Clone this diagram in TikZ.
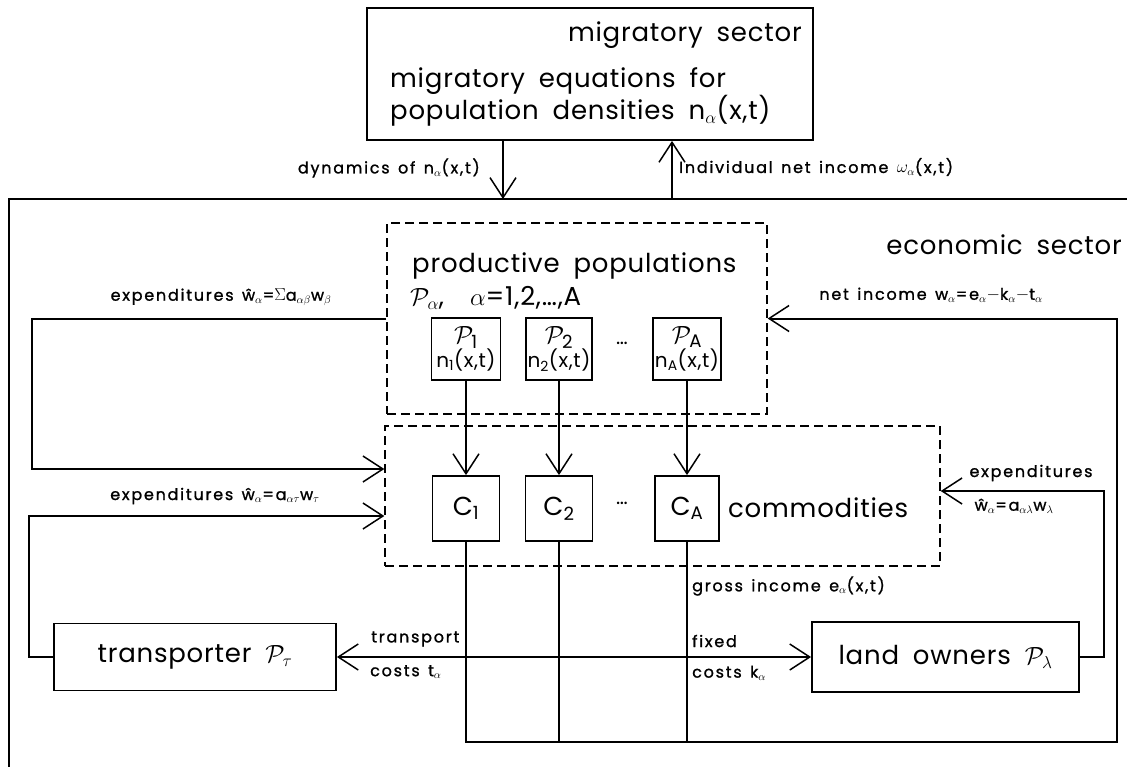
\documentclass[tikz,border=0pt]{standalone}
\usepackage{amsmath}
\usepackage{fontspec}
\setmainfont{Poppins}[LetterSpace=3, WordSpace=1.8]
\newfontfamily\lblfont{Poppins}[LetterSpace=11, WordSpace=1.4, FakeBold=1.2]
\usetikzlibrary{arrows.meta, positioning}

\begin{document}
\begin{tikzpicture}[x=1pt, y=-1pt,
  vtip/.tip={Straight Barb[length=20pt, width=26pt, line width=1.5pt]},
  box/.style={draw, line width=1.8pt, inner sep=0pt},
  dbox/.style={draw, line width=1.4pt, dash pattern=on 9pt off 5pt, inner sep=0pt},
  flow/.style={line width=2pt},
  arr/.style={flow, -vtip},
  big/.style={font=\fontsize{26}{27}\selectfont, inner sep=0pt},
  mid/.style={font=\fontsize{20}{22}\selectfont, inner sep=0pt},
  lbl/.style={font=\lblfont\fontsize{16}{18}\selectfont, inner sep=0pt}]
\clip (0,0) rectangle (1127,766);

\node[box, minimum width=446pt, minimum height=132pt] (mig) at (590,74) {};
\node[big, anchor=east] (migT) at (802,35) {migratory sector};
\node[big, anchor=west, align=left] (migE) at (390,97) {migratory equations for\\population densities n$_\alpha$(x,t)};

\draw[flow] (9,780) -- (9,199) -- (1140,199);
\coordinate (dynIn) at (503,199);
\coordinate (incOut) at (672,199);
\draw[arr] (mig.south -| dynIn) -- (dynIn);
\draw[arr] (incOut) -- (incOut |- mig.south);
\node[lbl, anchor=east] (dyn) at (480,168) {dynamics of n$_\alpha$(x,t)};
\node[lbl, anchor=west] (ind) at (679,167) {Individual net income $\omega_\alpha$(x,t)};
\node[big, anchor=east] (eco) at (1122,245) {economic sector};

\node[dbox, minimum width=380pt, minimum height=191pt] (prod) at (577,318.5) {};
\node[big, anchor=west] (prodT) at (412,266) {productive populations};
\node[big, anchor=west] (prodS) at (410,298) {$\mathcal{P}_\alpha$,\quad $\alpha$=1,2,\dots,A};
\node[box, mid, align=center, minimum width=69pt, minimum height=62pt] (P1) at (466,349) {{\fontsize{26}{24}\selectfont$\mathcal{P}_{\text{1}}$}\\n$_{\text{1}}$(x,t)};
\node[box, mid, align=center, minimum width=66pt, minimum height=62pt] (P2) at (559,349) {{\fontsize{26}{24}\selectfont$\mathcal{P}_{\text{2}}$}\\n$_{\text{2}}$(x,t)};
\node[box, mid, align=center, minimum width=68pt, minimum height=62pt] (PA) at (687,349) {{\fontsize{26}{24}\selectfont$\mathcal{P}_{\text{A}}$}\\n$_{\text{A}}$(x,t)};
\node[mid] (pdots) at (622,343) {\dots};

\node[dbox, minimum width=555pt, minimum height=140pt] (comm) at (662.5,496) {};
\node[box, big, minimum width=67pt, minimum height=65pt] (C1) at (466,508.5) {C$_{\text{1}}$};
\node[box, big, minimum width=67pt, minimum height=65pt] (C2) at (559,508.5) {C$_{\text{2}}$};
\node[box, big, minimum width=64pt, minimum height=65pt] (CA) at (687,508.5) {C$_{\text{A}}$};
\node[mid] (cdots) at (622,503) {\dots};
\node[big, anchor=west] (commT) at (728,508) {commodities};
\draw[arr] (P1.south) -- (P1.south |- C1.north);
\draw[arr] (P2.south) -- (P2.south |- C2.north);
\draw[arr] (PA.south) -- (PA.south |- CA.north);

\node[box, big, minimum width=282pt, minimum height=67pt] (trans) at (195,657) {transporter $\mathcal{P}_\tau$};
\node[box, big, minimum width=267pt, minimum height=70pt] (land) at (945.5,657) {land owners $\mathcal{P}_\lambda$};
\draw[flow, vtip-vtip] (trans) -- (land);

\coordinate (gross) at (1117,742);
\draw[arr] (C1.south) |- (gross) |- (prod.east);
\draw[flow] (C2.south) -- (C2.south |- gross);
\draw[flow] (CA.south) -- (CA.south |- gross);

\coordinate (sumL) at (32,469);
\coordinate (tauL) at (29,516);
\coordinate (lamR) at (1104,491);
\draw[arr] (prod.west) -| (sumL) -- (sumL -| comm.west);
\draw[arr] (trans.west) -| (tauL) -- (tauL -| comm.west);
\draw[arr] (land.east) -| (lamR) -- (lamR -| comm.east);

\node[lbl] (exS) at (221,297) {expenditures ŵ$_\alpha$=$\Sigma$a$_{\alpha\beta}$w$_\beta$};
\node[lbl] (exT) at (215,496) {expenditures ŵ$_\alpha$=a$_{\alpha\tau}$w$_\tau$};
\node[lbl] (net) at (931,295) {net income w$_\alpha$=e$_\alpha-$k$_\alpha-$t$_\alpha$};
\node[lbl] (exL) at (1031,473) {expenditures};
\node[lbl] (exLw) at (1014,506) {ŵ$_\alpha$=a$_{\alpha\lambda}$w$_\lambda$};
\node[lbl, anchor=west] (gri) at (692,586) {gross income e$_\alpha$(x,t)};
\node[lbl, anchor=west] (tr1) at (371,639) {transport};
\node[lbl, anchor=west] (tr2) at (370,672) {costs t$_\alpha$};
\node[lbl, anchor=west] (fx1) at (692,641) {fixed};
\node[lbl, anchor=west] (fx2) at (692,673) {costs k$_\alpha$};
\end{tikzpicture}
\end{document}
